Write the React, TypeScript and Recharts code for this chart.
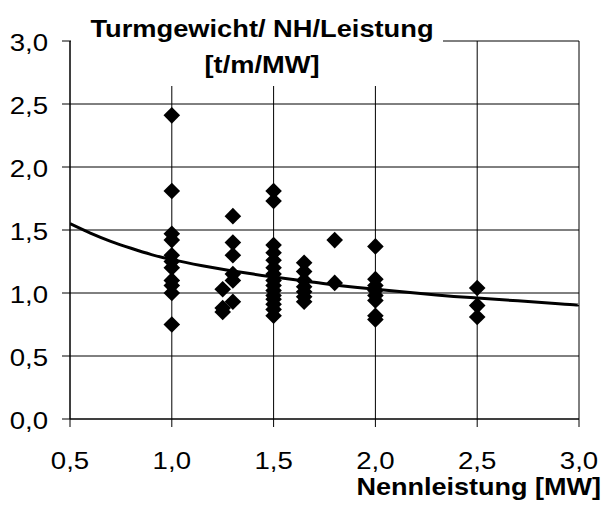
import React from "react";
import {
  ComposedChart,
  Scatter,
  Line,
  XAxis,
  YAxis,
  CartesianGrid,
  Customized,
} from "recharts";

// ---- data ----
const x100 = [2.41, 1.81, 1.47, 1.42, 1.3, 1.25, 1.2, 1.1, 1.06, 1.0, 0.75];
const x125 = [1.03, 0.88, 0.85];
const x130 = [1.61, 1.4, 1.3, 1.15, 1.1, 0.93];
const x150 = [1.81, 1.73, 1.38, 1.32, 1.26, 1.2, 1.15, 1.1, 1.06, 1.02, 0.98, 0.95, 0.91, 0.87, 0.82];
const x165 = [1.24, 1.17, 1.1, 1.05, 1.01, 0.97, 0.93];
const x180 = [1.42, 1.08];
const x200 = [1.37, 1.11, 1.06, 1.02, 0.98, 0.94, 0.82, 0.79];
const x250 = [1.04, 0.9, 0.81];

const curveX = [0.5, 0.6, 0.7, 0.8, 0.9, 1.0, 1.15, 1.4, 1.7, 1.9, 2.3, 2.5, 2.9, 3.0];
const curveY = [1.55, 1.475, 1.41, 1.355, 1.305, 1.265, 1.217, 1.15, 1.085, 1.045, 0.985, 0.96, 0.915, 0.905];

const xTicks = [0.5, 1.0, 1.5, 2.0, 2.5, 3.0];
const yTicks = [0, 0.5, 1.0, 1.5, 2.0, 2.5, 3.0];

const titleLines = ["Turmgewicht/ NH/Leistung", "[t/m/MW]"];
const xLabel = "Nennleistung [MW]";

const groups: [number, number[]][] = [
  [1.0, x100],
  [1.25, x125],
  [1.3, x130],
  [1.5, x150],
  [1.65, x165],
  [1.8, x180],
  [2.0, x200],
  [2.5, x250],
];
const points = groups.flatMap(([x, ys]) => ys.map((y) => ({ x, y })));
const curve = curveX.map((x, i) => ({ x, y: curveY[i] }));

const fmt = (v: number) => v.toFixed(1).replace(".", ",");
const FONT = "'Liberation Sans', Arial, sans-serif";

const Diamond = (props: any) => {
  const { cx, cy } = props;
  if (cx == null || cy == null) return null;
  const h = 8.3;
  return (
    <path
      d={`M${cx},${cy - h}L${cx + h},${cy}L${cx},${cy + h}L${cx - h},${cy}Z`}
      fill="#000"
    />
  );
};

const XTick = (props: any) => {
  const { x, y, payload } = props;
  return (
    <g transform={`translate(${x},${y})`}>
      <text
        transform="scale(1.15,1)"
        textAnchor="middle"
        y={40}
        fontSize={24}
        fontFamily={FONT}
        fill="#000"
      >
        {fmt(payload.value)}
      </text>
    </g>
  );
};

const YTick = (props: any) => {
  const { x, y, payload } = props;
  return (
    <g transform={`translate(${x},${y})`}>
      <text
        transform="scale(1.15,1)"
        textAnchor="end"
        y={10}
        fontSize={24}
        fontFamily={FONT}
        fill="#000"
      >
        {fmt(payload.value)}
      </text>
    </g>
  );
};

const Overlay = () => (
  <g>
    <rect x={71} y={28} width={372} height={58} fill="#fff" />
    <text
      transform="translate(262,37) scale(1.16,1)"
      textAnchor="middle"
      fontSize={23.5}
      fontWeight="bold"
      fontFamily={FONT}
      fill="#000"
    >
      {titleLines[0]}
    </text>
    <text
      transform="translate(262,73) scale(1.16,1)"
      textAnchor="middle"
      fontSize={23.5}
      fontWeight="bold"
      fontFamily={FONT}
      fill="#000"
    >
      {titleLines[1]}
    </text>
    <text
      transform="translate(601,495) scale(1.15,1)"
      textAnchor="end"
      fontSize={23.5}
      fontWeight="bold"
      fontFamily={FONT}
      fill="#000"
    >
      {xLabel}
    </text>
  </g>
);

export default function App() {
  return (
    <div style={{ position: "absolute", left: 0, top: 0, background: "#fff" }}>
      <ComposedChart
        width={605}
        height={511}
        margin={{ top: 41, right: 26, bottom: 0, left: 0 }}
      >
        <CartesianGrid stroke="#000" strokeWidth={1} />
        <Customized component={Overlay} />
        <XAxis
          type="number"
          dataKey="x"
          domain={[0.5, 3]}
          ticks={xTicks}
          height={92}
          tickSize={8}
          tickMargin={2}
          tick={<XTick />}
          stroke="#000"
          allowDataOverflow
        />
        <YAxis
          type="number"
          dataKey="y"
          domain={[0, 3]}
          ticks={yTicks}
          width={70}
          tickSize={8}
          tickMargin={14}
          tick={<YTick />}
          stroke="#000"
          allowDataOverflow
        />
        <Scatter
          data={points}
          dataKey="y"
          shape={<Diamond />}
          isAnimationActive={false}
        />
        <Line
          data={curve}
          dataKey="y"
          type="natural"
          stroke="#000"
          strokeWidth={3}
          dot={false}
          activeDot={false}
          isAnimationActive={false}
        />
      </ComposedChart>
    </div>
  );
}
